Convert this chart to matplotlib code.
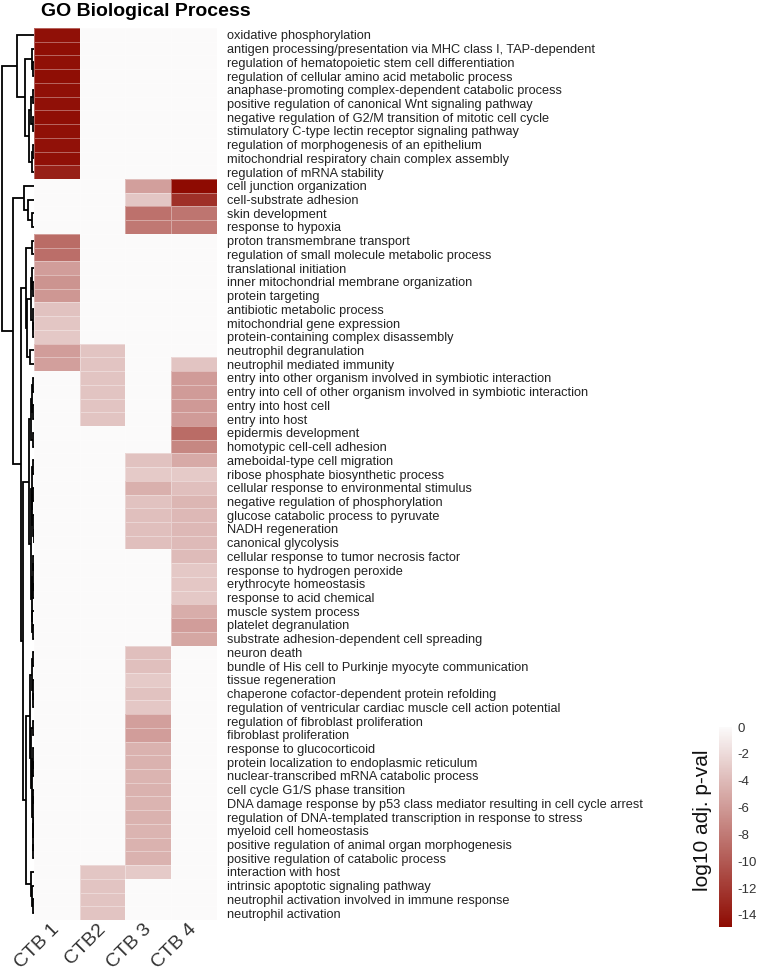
import numpy as np
import matplotlib
matplotlib.use("Agg")
import matplotlib.pyplot as plt
from matplotlib.colors import LinearSegmentedColormap

plt.rcParams['font.family'] = ['Liberation Sans', 'DejaVu Sans']
plt.rcParams['axes.unicode_minus'] = False

# ---------- data ----------
terms = [
    "oxidative phosphorylation",
    "antigen processing/presentation via MHC class I, TAP-dependent",
    "regulation of hematopoietic stem cell differentiation",
    "regulation of cellular amino acid metabolic process",
    "anaphase-promoting complex-dependent catabolic process",
    "positive regulation of canonical Wnt signaling pathway",
    "negative regulation of G2/M transition of mitotic cell cycle",
    "stimulatory C-type lectin receptor signaling pathway",
    "regulation of morphogenesis of an epithelium",
    "mitochondrial respiratory chain complex assembly",
    "regulation of mRNA stability",
    "cell junction organization",
    "cell-substrate adhesion",
    "skin development",
    "response to hypoxia",
    "proton transmembrane transport",
    "regulation of small molecule metabolic process",
    "translational initiation",
    "inner mitochondrial membrane organization",
    "protein targeting",
    "antibiotic metabolic process",
    "mitochondrial gene expression",
    "protein-containing complex disassembly",
    "neutrophil degranulation",
    "neutrophil mediated immunity",
    "entry into other organism involved in symbiotic interaction",
    "entry into cell of other organism involved in symbiotic interaction",
    "entry into host cell",
    "entry into host",
    "epidermis development",
    "homotypic cell-cell adhesion",
    "ameboidal-type cell migration",
    "ribose phosphate biosynthetic process",
    "cellular response to environmental stimulus",
    "negative regulation of phosphorylation",
    "glucose catabolic process to pyruvate",
    "NADH regeneration",
    "canonical glycolysis",
    "cellular response to tumor necrosis factor",
    "response to hydrogen peroxide",
    "erythrocyte homeostasis",
    "response to acid chemical",
    "muscle system process",
    "platelet degranulation",
    "substrate adhesion-dependent cell spreading",
    "neuron death",
    "bundle of His cell to Purkinje myocyte communication",
    "tissue regeneration",
    "chaperone cofactor-dependent protein refolding",
    "regulation of ventricular cardiac muscle cell action potential",
    "regulation of fibroblast proliferation",
    "fibroblast proliferation",
    "response to glucocorticoid",
    "protein localization to endoplasmic reticulum",
    "nuclear-transcribed mRNA catabolic process",
    "cell cycle G1/S phase transition",
    "DNA damage response by p53 class mediator resulting in cell cycle arrest",
    "regulation of DNA-templated transcription in response to stress",
    "myeloid cell homeostasis",
    "positive regulation of animal organ morphogenesis",
    "positive regulation of catabolic process",
    "interaction with host",
    "intrinsic apoptotic signaling pathway",
    "neutrophil activation involved in immune response",
    "neutrophil activation",
]

samples = ["CTB 1", "CTB2", "CTB 3", "CTB 4"]

# log10 adj. p-value per term (0 = not enriched)
ctb1 = [-14.6, -14.7, -14.6, -14.7, -14.6, -14.6, -14.7, -14.6, -14.5, -14.6, -13.6,
        0, 0, 0, 0,
        -8.9, -8.7, -5.8, -6.4, -6.2, -3.5, -3.3, -3.1, -5.8, -5.7,
        0, 0, 0, 0, 0, 0, 0, 0, 0, 0, 0, 0, 0, 0, 0, 0, 0, 0, 0, 0,
        0, 0, 0, 0, 0, 0, 0, 0, 0, 0, 0, 0, 0, 0, 0, 0, 0, 0, 0, 0]
ctb2 = [0, 0, 0, 0, 0, 0, 0, 0, 0, 0, 0,
        0, 0, 0, 0,
        0, 0, 0, 0, 0, 0, 0, 0, -3.4, -3.4,
        -3.4, -3.4, -3.4, -3.4, 0, 0, 0, 0, 0, 0, 0, 0, 0, 0, 0, 0, 0, 0, 0, 0,
        0, 0, 0, 0, 0, 0, 0, 0, 0, 0, 0, 0, 0, 0, 0, 0, -3.3, -3.4, -3.4, -3.4]
ctb3 = [0, 0, 0, 0, 0, 0, 0, 0, 0, 0, 0,
        -5.7, -3.3, -8.5, -8.1,
        0, 0, 0, 0, 0, 0, 0, 0, 0, 0,
        0, 0, 0, 0, 0, 0, -3.5, -3.0, -4.6, -3.5, -3.7, -3.7, -3.7, 0, 0, 0, 0, 0, 0, 0,
        -3.7, -3.7, -3.0, -3.5, -3.2, -5.7, -5.8, -4.5, -4.5, -4.4, -4.5, -4.4, -4.5, -4.4, -4.5, -4.5,
        -3.0, 0, 0, 0]
ctb4 = [0, 0, 0, 0, 0, 0, 0, 0, 0, 0, 0,
        -14.9, -12.6, -8.3, -8.1,
        0, 0, 0, 0, 0, 0, 0, 0, 0, -3.4,
        -5.9, -5.9, -6.0, -5.9, -8.9, -7.2, -5.0, -3.0, -3.7, -4.3, -4.1, -4.1, -4.0, -3.9, -3.1,
        -3.2, -3.1, -4.8, -5.8, -5.2,
        0, 0, 0, 0, 0, 0, 0, 0, 0, 0, 0, 0, 0, 0, 0, 0, 0, 0, 0, 0]

# row dendrogram: (merge height, left, right), leaves are 1-based row numbers
tree = (1.0,
        (0.52, 1,
         (0.27,
          (0.06, 2, (0.03, 3, 4)),
          (0.15, (0.08, (0.04, 5, 6), (0.03, 7, 8)), (0.06, (0.03, 9, 10), 11)))),
        (0.64,
         (0.30, 12, (0.18, 13, (0.05, 14, 15))),
         (0.39,
          (0.24, (0.06, 16, 17),
           (0.21, (0.10, (0.05, 18, (0.03, 19, 20)), (0.04, 21, (0.02, 22, 23))),
            (0.12, 24, 25))),
          (0.33,
           (0.15,
            (0.08, (0.05, (0.03, 26, 27), (0.02, 28, 29)), (0.04, 30, 31)),
            (0.10,
             (0.06, (0.04, 32, 33), (0.05, (0.02, 34, 35), (0.03, 36, (0.01, 37, 38)))),
             (0.07, (0.04, (0.02, 39, 40), (0.02, 41, 42)), (0.05, 43, (0.02, 44, 45))))),
           (0.24,
            (0.12,
             (0.06, (0.03, 46, 47), (0.04, 48, (0.02, 49, 50))),
             (0.08, (0.03, 51, 52),
              (0.06, (0.03, 53, (0.02, 54, 55)),
               (0.04, (0.02, 56, 57), (0.03, (0.01, 58, 59), (0.02, 60, 61)))))),
            (0.10, 62, (0.05, 63, (0.02, 64, 65))))))))

# ---------- figure ----------
W, H = 757, 976
fig = plt.figure(figsize=(W / 100, H / 100), dpi=100)


def box(x0, y0, x1, y1):
    # pixel box (from top-left) -> figure fraction rect
    return [x0 / W, 1 - y1 / H, (x1 - x0) / W, (y1 - y0) / H]


cmap = LinearSegmentedColormap.from_list("reds", ["#8E0B02", "#FBFAFA"])

# heatmap
ax = fig.add_axes(box(34, 28, 217, 920))
vals = np.column_stack([ctb1, ctb2, ctb3, ctb4])
mesh = ax.pcolormesh(vals, cmap=cmap, vmin=-14.9, vmax=0,
                     edgecolors=(1, 1, 1, 0.35), linewidth=0.6)
ax.set_xlim(0, len(samples))
ax.set_ylim(len(terms), 0)
ax.set_yticks(np.arange(len(terms)) + 0.5)
ax.set_yticklabels(terms, fontsize=9.2, color="#222222")
ax.yaxis.tick_right()
ax.set_xticks(np.arange(len(samples)) + 0.5)
ax.set_xticklabels(samples, rotation=45, ha="right", va="center",
                   rotation_mode="anchor", fontsize=14, color="#333333")
ax.tick_params(axis="y", length=0, pad=7)
ax.tick_params(axis="x", length=0, pad=5)
for s in ax.spines.values():
    s.set_visible(False)

# dendrogram
dax = fig.add_axes(box(0, 28, 34, 920))
dax.set_xlim(1.06, 0)
dax.set_ylim(len(terms), 0)
dax.axis("off")


def draw(node):
    if isinstance(node, int):
        return node - 0.5, 0.0
    h, a, b = node
    ya, ha_ = draw(a)
    yb, hb = draw(b)
    dax.plot([ha_, h, h, hb], [ya, ya, yb, yb], color="black", lw=1.3,
             solid_joinstyle="miter", solid_capstyle="butt")
    return (ya + yb) / 2, h


draw(tree)

# colorbar
cax = fig.add_axes(box(719, 727, 732, 927))
cb = fig.colorbar(mesh, cax=cax)
cb.set_ticks([0, -2, -4, -6, -8, -10, -12, -14])
cb.outline.set_visible(False)
cax.tick_params(length=0, labelsize=9.5, labelcolor="#333333", pad=4)
fig.text(703 / W, 1 - 820 / H, "log10 adj. p-val", rotation=90,
         ha="center", va="center", fontsize=15, color="#111111")

fig.text(41 / W, 1 - 11 / H, "GO Biological Process", fontsize=14,
         fontweight="bold", ha="left", va="center")

fig.savefig("out.png", dpi=100)
